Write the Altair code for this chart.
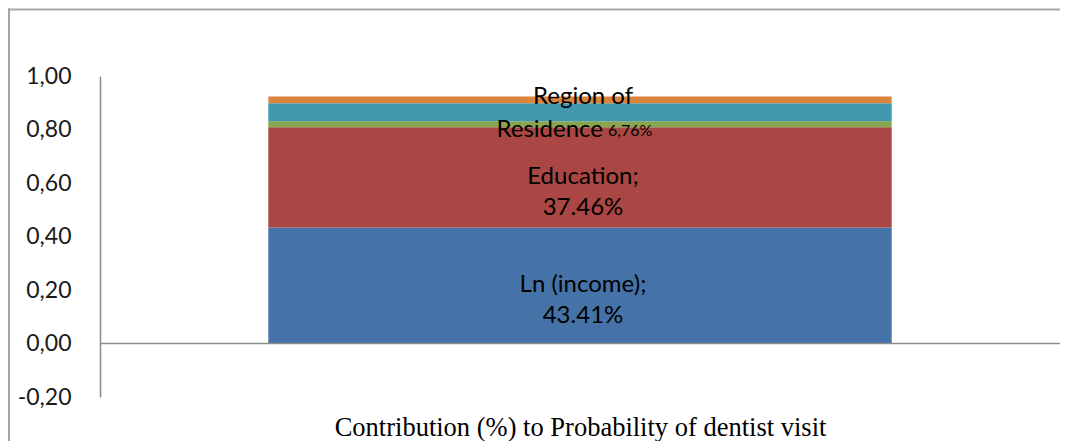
import altair as alt
import pandas as pd

# ---- data ----
factors = ["Ln (income)", "Education", "Other A", "Region of Residence", "Other B"]
contrib = [0.4341, 0.3746, 0.022, 0.0676, 0.025]
colors = ["#4572A7", "#AA4643", "#89A54E", "#4198AF", "#DB843D"]
category = "Contribution (%) to Probability of dentist visit"
y_ticks = [-0.2, 0.0, 0.2, 0.4, 0.6, 0.8, 1.0]

label_lines = [["Ln (income);", "43.41%"], ["Education;", "37.46%"]]
region_line1 = "Region of"
region_line2 = "Residence"
region_pct = "6,76%"

# ---- tables ----
df = pd.DataFrame({"cat": [category] * len(factors), "factor": factors,
                   "value": contrib, "order": list(range(len(factors)))})
df["end"] = df["value"].cumsum()
df["start"] = df["end"] - df["value"]
df["mid"] = (df["start"] + df["end"]) / 2

lab = pd.DataFrame({"cat": [category] * 2, "text": label_lines, "mid": df["mid"].iloc[:2].tolist()})
reg_mid = float(df["mid"].iloc[3])
reg = pd.DataFrame({"cat": [category], "mid": [reg_mid]})

yscale = alt.Scale(domain=[-0.2, 1.0], nice=False, zero=False)
xscale = alt.Scale(paddingInner=0, paddingOuter=0.27)

x_enc = alt.X("cat:N", scale=xscale,
              axis=alt.Axis(labels=False, ticks=False, domain=False, title=category,
                            titleFont="Liberation Serif", titleFontSize=26.5,
                            titleFontWeight="normal", titleColor="#000000",
                            titleBaseline="alphabetic", titlePadding=38))

one = pd.DataFrame({"a": [0]})
frame_top = alt.Chart(one).mark_rule(color="#a6a6a6", strokeWidth=2).encode(
    x=alt.value(-92), x2=alt.value(1100), y=alt.value(-66.5))
frame_left = alt.Chart(one).mark_rule(color="#a6a6a6", strokeWidth=2).encode(
    x=alt.value(-91), y=alt.value(-67.5), y2=alt.value(1000))

bars = alt.Chart(df).mark_bar().encode(
    x=x_enc,
    y=alt.Y("start:Q", scale=yscale,
            axis=alt.Axis(values=y_ticks, grid=False, ticks=False, domainColor="#8c8c8c",
                          domainWidth=1.5, labelFont="Lato", labelFontSize=23,
                          labelColor="#1a1a1a", labelPadding=29, title=None,
                          labelExpr="replace(replace(format(datum.value, '.2f'), '.', ','), '\u2212', '-')")),
    y2="end:Q",
    color=alt.Color("factor:N", scale=alt.Scale(domain=factors, range=colors), legend=None),
)

zero = alt.Chart(pd.DataFrame({"zero": [0.0]})).mark_rule(
    color="#8c8c8c", strokeWidth=1.5
).encode(y=alt.Y("zero:Q", scale=yscale))

texts = alt.Chart(lab).mark_text(
    font="Lato", fontSize=24, color="#000000", lineHeight=31, baseline="middle", align="center", dx=3
).encode(x=alt.X("cat:N", scale=xscale), y=alt.Y("mid:Q", scale=yscale), text="text")

reg1 = alt.Chart(reg).mark_text(
    font="Lato", fontSize=24, color="#000000", baseline="middle", align="center", dy=-15, dx=3
).encode(x=alt.X("cat:N", scale=xscale), y=alt.Y("mid:Q", scale=yscale), text=alt.value(region_line1))

reg2 = alt.Chart(reg).mark_text(
    font="Lato", fontSize=24, color="#000000", baseline="middle", align="right", dy=18, dx=23
).encode(x=alt.X("cat:N", scale=xscale), y=alt.Y("mid:Q", scale=yscale), text=alt.value(region_line2))

reg3 = alt.Chart(reg).mark_text(
    font="Lato", fontSize=16, color="#000000", baseline="middle", align="left", dy=19, dx=28
).encode(x=alt.X("cat:N", scale=xscale), y=alt.Y("mid:Q", scale=yscale), text=alt.value(region_pct))

chart = alt.layer(frame_top, frame_left, bars, zero, texts, reg1, reg2, reg3).properties(
    width=960, height=321,
    background="#ffffff",
    autosize=alt.AutoSizeParams(type="none"),
    padding={"left": 92, "top": 68, "right": 0, "bottom": 44},
).configure_view(stroke=None)

chart.save("out.html", embed_options={"renderer": "svg", "actions": False})
